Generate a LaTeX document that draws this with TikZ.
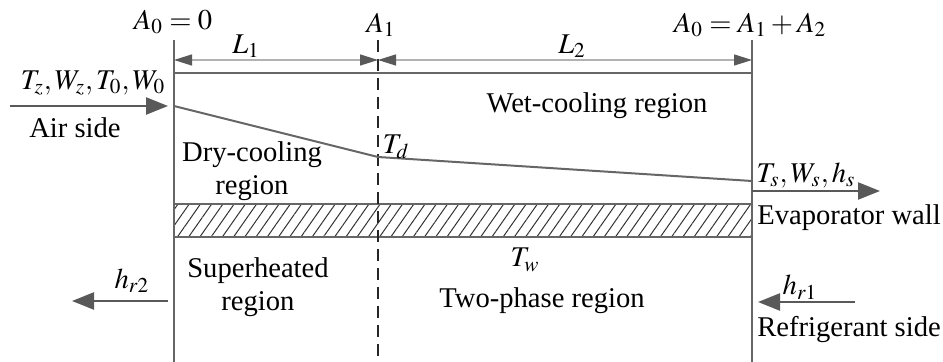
\documentclass[tikz,border=0pt]{standalone}
\usepackage{mathptmx}
\usepackage{fontspec}
\setmainfont{Liberation Serif}
\usetikzlibrary{positioning,arrows.meta,patterns.meta}

\begin{document}
\begin{tikzpicture}[
    x=0.5pt, y=-0.5pt,
    font=\fontsize{14.3}{16.5}\selectfont,
    wall/.style={draw=black!60, line width=1.1pt},
    dimline/.style={draw=black!30, line width=0.7pt, {Triangle[length=9pt,width=5.5pt,color=black!65,fill=black!65]}-{Triangle[length=9pt,width=5.5pt,color=black!65,fill=black!65]}},
    flow/.style={-{Triangle[length=11pt,width=8.5pt,color=black!65,fill=black!65]}, draw=black!65, line width=1.2pt},
    lbl/.style={inner sep=1pt, align=center},
]
\useasboundingbox (0,0) rectangle (943,362);

% boundaries A0, A1, A0+A2
\coordinate (a0top) at (174,40);  \coordinate (a0bot) at (174,362);
\coordinate (a1top) at (378,40);  \coordinate (a1bot) at (378,362);
\coordinate (a2top) at (752,40);  \coordinate (a2bot) at (752,362);
\coordinate (topl) at (174,73);   \coordinate (topr) at (752,73);

% evaporator wall
\path[pattern={Lines[angle=55,distance=4.6pt,line width=0.5pt]}, pattern color=black!80] (174,204) rectangle (752,237);
\draw[wall] (174,204) -- (752,204) (174,237) -- (752,237);

\draw[wall] (a0top) -- (a0bot);
\draw[wall] (a2top) -- (a2bot);
\draw[wall] (topl) -- (topr);
\draw[draw=black!85, line width=1.1pt, dash pattern=on 6pt off 3.5pt] (a1top) -- (a1bot);

% air temperature profile
\coordinate (tin) at (174,106);
\coordinate (td) at (378,157);
\coordinate (tout) at (752,181);
\draw[wall, line width=1pt] (tin) -- (td) -- (tout);

% lengths
\coordinate (dl) at (174,60); \coordinate (dm) at (378,60); \coordinate (dr) at (752,60);
\draw[dimline] (dl) -- (dm);
\draw[dimline] (dm) -- (dr);

% labels
\node[lbl] (lA0) at (173,22) {$A_0=0$};
\node[lbl] (lA1) at (381,25) {$A_1$};
\node[lbl] (lA2) at (750,25) {$A_0=A_1+A_2$};
\node[lbl] (lL1) at (246,46) {$L_1$};
\node[lbl] (lL2) at (572,46) {$L_2$};
\node[lbl] (airin) at (93,83) {$T_z,W_z,T_0,W_0$};
\node[lbl] (airside) at (75,128) {Air side};
\node[lbl] (wet) at (597,106) {Wet-cooling region};
\node[lbl] (lTd) at (396,147) {$T_d$};
\node[lbl] (dry) at (252,171) {Dry-cooling\\region};
\node[lbl] (airout) at (806,175) {$T_s,W_s,h_s$};
\node[lbl] (wallname) at (849,218) {Evaporator wall};
\node[lbl] (lTw) at (525,260) {$T_w$};
\node[lbl] (sup) at (258,287) {Superheated\\region};
\node[lbl] (two) at (542,301) {Two-phase region};
\node[lbl] (lhr2) at (132,281) {$h_{r2}$};
\node[lbl] (lhr1) at (800,287) {$h_{r1}$};
\node[lbl] (refside) at (849,330) {Refrigerant side};

% flows
\coordinate (ain) at (10,106);   \coordinate (aend) at (168,106);
\coordinate (sout) at (752,191); \coordinate (send) at (880,191);
\coordinate (r2a) at (168,301);  \coordinate (r2b) at (72,301);
\coordinate (r1a) at (855,302);  \coordinate (r1b) at (758,302);
\draw[flow] (ain) -- (aend);
\draw[flow] (sout) -- (send);
\draw[flow] (r2a) -- (r2b);
\draw[flow] (r1a) -- (r1b);
\end{tikzpicture}
\end{document}
